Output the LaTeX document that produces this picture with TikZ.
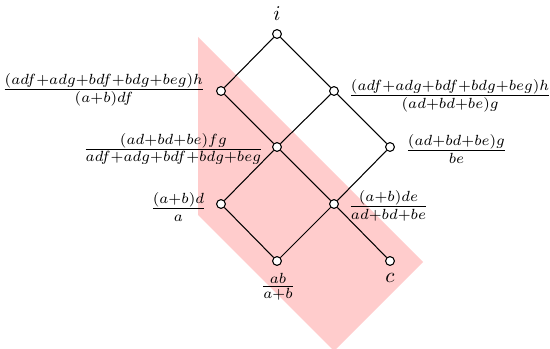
\documentclass[tikz,border=0pt]{standalone}
\begin{document}
\begin{tikzpicture}[x=0.476pt,y=-0.476pt,
  v/.style={circle,draw,fill=white,inner sep=0pt,minimum size=4.2pt,line width=0.5pt},
  edge/.style={line width=0.5pt},
  lab/.style={inner sep=0pt}]
\useasboundingbox (0,0) rectangle (550,349);
\fill[red!20] (198,37) -- (423,262) -- (334,351) -- (198,215) -- cycle;
\coordinate (pi) at (277,34);
\coordinate (pA) at (221,91);
\coordinate (pB) at (334,91);
\coordinate (pC) at (277,147);
\coordinate (pD) at (390,147);
\coordinate (pE) at (221,204);
\coordinate (pF) at (334,204);
\coordinate (pG) at (277,261);
\coordinate (pH) at (390,261);
\node[v] (i) at (pi) {};
\node[v] (A) at (pA) {};
\node[v] (B) at (pB) {};
\node[v] (C) at (pC) {};
\node[v] (D) at (pD) {};
\node[v] (E) at (pE) {};
\node[v] (F) at (pF) {};
\node[v] (G) at (pG) {};
\node[v] (H) at (pH) {};
\draw[edge] (i) -- (A);
\draw[edge] (i) -- (B);
\draw[edge] (A) -- (C);
\draw[edge] (B) -- (C);
\draw[edge] (B) -- (D);
\draw[edge] (C) -- (E);
\draw[edge] (C) -- (F);
\draw[edge] (D) -- (F);
\draw[edge] (E) -- (G);
\draw[edge] (F) -- (G);
\draw[edge] (F) -- (H);
\node[lab,anchor=base] (li) at (277,21) {$i$};
\node[lab,anchor=base] (lH) at (390,283) {$c$};
\node[lab,anchor=east] (lA) at (206,90) {$\frac{(adf+adg+bdf+bdg+beg)h}{(a+b)df}$};
\node[lab,anchor=west] (lB) at (348,96) {$\frac{(adf+adg+bdf+bdg+beg)h}{(ad+bd+be)g}$};
\node[lab,anchor=east] (lC) at (264,149) {$\frac{(ad+bd+be)fg}{adf+adg+bdf+bdg+beg}$};
\node[lab,anchor=west] (lD) at (405,149) {$\frac{(ad+bd+be)g}{be}$};
\node[lab,anchor=east] (lE) at (207,207) {$\frac{(a+b)d}{a}$};
\node[lab,anchor=west] (lF) at (348,206) {$\frac{(a+b)de}{ad+bd+be}$};
\node[lab] (lG) at (278,287) {$\frac{ab}{a+b}$};
\end{tikzpicture}
\end{document}
